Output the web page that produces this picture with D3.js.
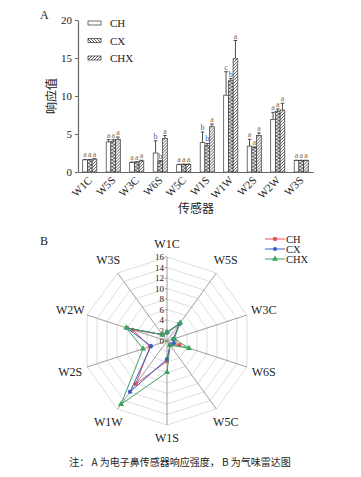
<!DOCTYPE html>
<html>
<head>
<meta charset="utf-8">
<script src="https://cdnjs.cloudflare.com/ajax/libs/d3/7.8.5/d3.min.js"></script>
<style>
  body { margin: 0; background: #fff; }
  svg { display: block; }
  text { font-family: "Liberation Serif", "Times New Roman", serif; fill: #222; }
  .cjk { font-family: "Noto Sans CJK SC", sans-serif; }
</style>
</head>
<body>
<div id="viz"></div>
<script>
// sensors of the electronic nose
var sensors = ['W1C', 'W5S', 'W3C', 'W6S', 'W5C', 'W1S', 'W1W', 'W2S', 'W2W', 'W3S'];
var groups = ['CH', 'CX', 'CHX'];

// mean response values
var chValues  = [1.6, 3.95, 1.27, 2.5, 0.96, 3.86, 10.1, 3.4, 6.9, 1.5];
var cxValues  = [1.6, 4.05, 1.3, 1.35, 1.0, 3.46, 12.0, 3.2, 8.0, 1.5];
var chxValues = [1.7, 4.3, 1.45, 4.4, 1.0, 5.96, 14.9, 4.8, 8.15, 1.5];

// error bars (sd)
var chErr  = [0.05, 0.3, 0.05, 1.6, 0.05, 1.4, 3.1, 0.9, 0.95, 0.05];
var cxErr  = [0.05, 0.2, 0.05, 0.15, 0.05, 0.3, 0.3, 0.1, 0.3, 0.05];
var chxErr = [0.05, 0.3, 0.1, 0.4, 0.05, 0.35, 2.4, 0.35, 0.9, 0.05];

// significance letters
var chSig  = ['a', 'a', 'a', 'b', 'a', 'b', 'c', 'a', 'a', 'a'];
var cxSig  = ['a', 'a', 'a', 'b', 'a', 'b', 'b', 'a', 'a', 'a'];
var chxSig = ['a', 'a', 'a', 'a', 'a', 'a', 'a', 'a', 'a', 'a'];

var yTicks = [0, 5, 10, 15, 20];
var radarTicks = [0, 2, 4, 6, 8, 10, 12, 14, 16];

var values = [chValues, cxValues, chxValues];
var errs = [chErr, cxErr, chxErr];
var sigs = [chSig, cxSig, chxSig];

var svg = d3.select('#viz').append('svg').attr('width', 361).attr('height', 477);
var defs = svg.append('defs');

var bw = 4.7; // bar width

// white bars for CH, chevrons for CX, diagonal hatching for CHX
var fills = ['#fff', 'url(#chev)', 'url(#hatch)'];
var legendFills = ['#fff', 'url(#back)', 'url(#hatch)'];

var chev = defs.append('pattern').attr('id', 'chev')
  .attr('patternUnits', 'userSpaceOnUse').attr('width', bw).attr('height', 3.4);
chev.append('rect').attr('width', bw).attr('height', 3.4).attr('fill', '#fff');
chev.append('path').attr('d', 'M0,0 L' + bw + ',1.7 L0,3.4')
  .attr('fill', 'none').attr('stroke', '#333').attr('stroke-width', 0.8);

function hatchPattern(id, d) {
  var p = defs.append('pattern').attr('id', id)
    .attr('patternUnits', 'userSpaceOnUse').attr('width', 3).attr('height', 3);
  p.append('rect').attr('width', 3).attr('height', 3).attr('fill', '#fff');
  p.append('path').attr('d', d)
    .attr('fill', 'none').attr('stroke', '#333').attr('stroke-width', 0.8);
}
hatchPattern('hatch', 'M-1,1 L1,-1 M0,3 L3,0 M2,4 L4,2');
hatchPattern('back', 'M-1,2 L1,4 M0,0 L3,3 M2,-1 L4,1');

///////////////////////////////////////////////////////////////////////////////
// A: bar chart

var x = d3.scaleBand().domain(sensors).range([78, 313]).paddingInner(0.4).paddingOuter(0.2);
var y = d3.scaleLinear().domain([0, 20]).range([172, 20]);

var axisColor = '#666';

var yAxis = svg.append('g').attr('transform', 'translate(78,0)')
  .call(d3.axisLeft(y).tickValues(yTicks).tickSize(3).tickSizeOuter(0));
yAxis.select('.domain').attr('stroke', axisColor).attr('stroke-width', 1.2);
yAxis.selectAll('.tick line').attr('stroke', axisColor);
yAxis.selectAll('.tick text').attr('font-size', 11).attr('font-family', 'Liberation Serif').attr('fill', '#333');

var bars = svg.append('g');
sensors.forEach(function(s, i) {
  var gx = x(s) + (x.bandwidth() - 3 * bw) / 2;
  groups.forEach(function(g, k) {
    var v = values[k][i], e = errs[k][i];
    var bx = gx + k * bw;
    var cx = bx + bw / 2;
    var topErr = y(v + e);
    // error bar
    bars.append('line').attr('x1', cx).attr('x2', cx).attr('y1', y(v)).attr('y2', topErr)
      .attr('stroke', '#222').attr('stroke-width', 0.8);
    bars.append('line').attr('x1', cx - 1.8).attr('x2', cx + 1.8).attr('y1', topErr).attr('y2', topErr)
      .attr('stroke', '#222').attr('stroke-width', 0.8);
    // bar itself, translated so the pattern starts at the bar's left edge
    bars.append('rect').attr('transform', 'translate(' + bx + ',0)')
      .attr('x', 0).attr('y', y(v)).attr('width', bw).attr('height', y(0) - y(v))
      .attr('fill', fills[k]).attr('stroke', '#333').attr('stroke-width', 0.7);
    // letter
    var letter = sigs[k][i];
    bars.append('text').attr('x', cx).attr('y', topErr - 2)
      .attr('text-anchor', 'middle').attr('font-size', 8)
      .style('fill', letter == 'a' ? '#8a6a40' : '#3a62b0')
      .text(letter);
  });
});

var xAxis = svg.append('g').attr('transform', 'translate(0,172)')
  .call(d3.axisBottom(x).tickSize(0).tickSizeOuter(0));
xAxis.select('.domain').attr('stroke', axisColor).attr('stroke-width', 1.2);
xAxis.selectAll('.tick text')
  .attr('font-size', 11).attr('font-family', 'Liberation Serif').attr('fill', '#333')
  .attr('text-anchor', 'end')
  .attr('dy', 0).attr('y', 0)
  .attr('transform', 'translate(3,9) rotate(-45)');

svg.append('text').attr('class', 'cjk').attr('x', 196).attr('y', 213)
  .attr('text-anchor', 'middle').attr('font-size', 12).text('传感器');
svg.append('text').attr('class', 'cjk')
  .attr('transform', 'translate(56,96) rotate(-90)')
  .attr('text-anchor', 'middle').attr('font-size', 12).text('响应值');
svg.append('text').attr('x', 40).attr('y', 19).attr('font-size', 12).text('A');

// legend A
var legA = svg.append('g');
groups.forEach(function(g, k) {
  var ly = 23 + k * 17.5;
  legA.append('rect').attr('transform', 'translate(88,0)')
    .attr('x', 0).attr('y', ly - 2).attr('width', 13).attr('height', 4)
    .attr('fill', legendFills[k]).attr('stroke', '#333').attr('stroke-width', 0.7);
  legA.append('text').attr('x', 110).attr('y', ly + 4).attr('font-size', 11).text(g);
});

///////////////////////////////////////////////////////////////////////////////
// B: radar chart

var cxr = 167, cyr = 341;
var r = d3.scaleLinear().domain([0, 16]).range([0, 84]);
var angle = d3.scalePoint().domain(sensors).range([0, 2 * Math.PI * 0.9]);

function pt(s, v) {
  var a = angle(s);
  return [cxr + r(v) * Math.sin(a), cyr - r(v) * Math.cos(a)];
}

var radar = svg.append('g');

// grid rings
radarTicks.slice(1).forEach(function(t) {
  radar.append('path')
    .attr('d', d3.line()(sensors.map(function(s) { return pt(s, t); })) + 'Z')
    .attr('fill', 'none').attr('stroke', '#d0d0d0').attr('stroke-width', 0.7);
});

// spokes
sensors.forEach(function(s) {
  var p = pt(s, 16);
  radar.append('line').attr('x1', cxr).attr('y1', cyr).attr('x2', p[0]).attr('y2', p[1])
    .attr('stroke', '#888').attr('stroke-width', 0.8);
});

// tick labels along the top spoke
radarTicks.forEach(function(t) {
  radar.append('line').attr('x1', cxr - 2).attr('x2', cxr).attr('y1', cyr - r(t)).attr('y2', cyr - r(t))
    .attr('stroke', '#888').attr('stroke-width', 0.7);
  radar.append('text').attr('x', cxr - 3).attr('y', cyr - r(t) + 3)
    .attr('text-anchor', 'end').attr('font-size', 9).attr('fill', '#333').text(t);
});

// axis labels
sensors.forEach(function(s) {
  var a = angle(s);
  var lr = 97 + 5 * Math.abs(Math.sin(a));
  radar.append('text')
    .attr('x', cxr + lr * Math.sin(a)).attr('y', cyr - lr * Math.cos(a) + 4)
    .attr('text-anchor', 'middle').attr('font-size', 12).text(s);
});

var colors = ['#e0525a', '#3a5fc8', '#3aa35c'];
var symbols = [d3.symbolSquare, d3.symbolCircle, d3.symbolTriangle];
var symSize = [14, 14, 16];

groups.forEach(function(g, k) {
  var pts = sensors.map(function(s, i) { return pt(s, values[k][i]); });
  radar.append('path').attr('d', d3.line().curve(d3.curveLinearClosed)(pts))
    .attr('fill', 'none').attr('stroke', colors[k]).attr('stroke-width', 1);
  pts.forEach(function(p) {
    radar.append('path').attr('transform', 'translate(' + p[0] + ',' + p[1] + ')')
      .attr('d', d3.symbol().type(symbols[k]).size(symSize[k])())
      .attr('fill', colors[k]);
  });
});

svg.append('text').attr('x', 40).attr('y', 245).attr('font-size', 12).text('B');

// legend B
groups.forEach(function(g, k) {
  var ly = 239 + k * 10;
  svg.append('line').attr('x1', 265).attr('x2', 285).attr('y1', ly).attr('y2', ly)
    .attr('stroke', colors[k]).attr('stroke-width', 1);
  svg.append('path').attr('transform', 'translate(275,' + ly + ')')
    .attr('d', d3.symbol().type(symbols[k]).size(symSize[k])())
    .attr('fill', colors[k]);
  svg.append('text').attr('x', 286).attr('y', ly + 3.5).attr('font-size', 10.5).text(g);
});

// caption
svg.append('text').attr('class', 'cjk').attr('x', 180).attr('y', 466)
  .attr('text-anchor', 'middle').attr('font-size', 10).attr('fill', '#333')
  .text('注：  A 为电子鼻传感器响应强度，  B 为气味雷达图');
</script>
</body>
</html>
